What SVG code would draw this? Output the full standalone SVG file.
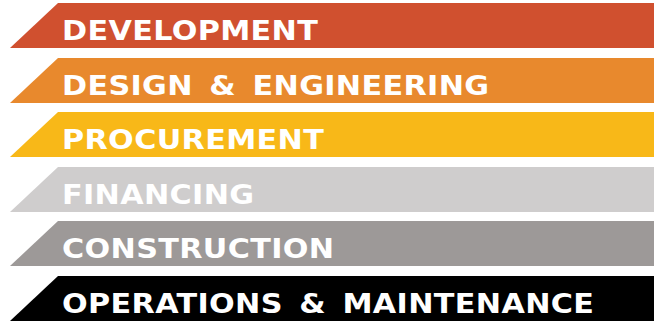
<svg xmlns="http://www.w3.org/2000/svg" width="654" height="322" viewBox="0 0 654 322">
<style>
.lbl{font-family:"DejaVu Sans","Verdana",sans-serif;font-weight:bold;font-size:27px;fill:#fff;letter-spacing:0.3px;word-spacing:5px}
</style>
<rect width="654" height="322" fill="#fff"/>
<g id="development"><polygon points="58,3 654,3 654,48 10,48" fill="#D0502F"/><text class="lbl" transform="matrix(1.12,0,0,1,62,40)">DEVELOPMENT</text></g>
<g id="design"><polygon points="58,58 654,58 654,103 10,103" fill="#E8892D"/><text class="lbl" transform="matrix(1.12,0,0,1,62,95)">DESIGN &amp; ENGINEERING</text></g>
<g id="procurement"><polygon points="58,112 654,112 654,157 10,157" fill="#F8B818"/><text class="lbl" transform="matrix(1.12,0,0,1,62,149)">PROCUREMENT</text></g>
<g id="financing"><polygon points="58,167 654,167 654,212 10,212" fill="#CFCDCD"/><text class="lbl" transform="matrix(1.12,0,0,1,62,204)">FINANCING</text></g>
<g id="construction"><polygon points="58,221 654,221 654,266 10,266" fill="#9D9998"/><text class="lbl" transform="matrix(1.12,0,0,1,62,258)">CONSTRUCTION</text></g>
<g id="operations"><polygon points="58,276 654,276 654,321 10,321" fill="#000"/><text class="lbl" transform="matrix(1.12,0,0,1,62,313)">OPERATIONS &amp; MAINTENANCE</text></g>
<g id="connectors"/>
</svg>
